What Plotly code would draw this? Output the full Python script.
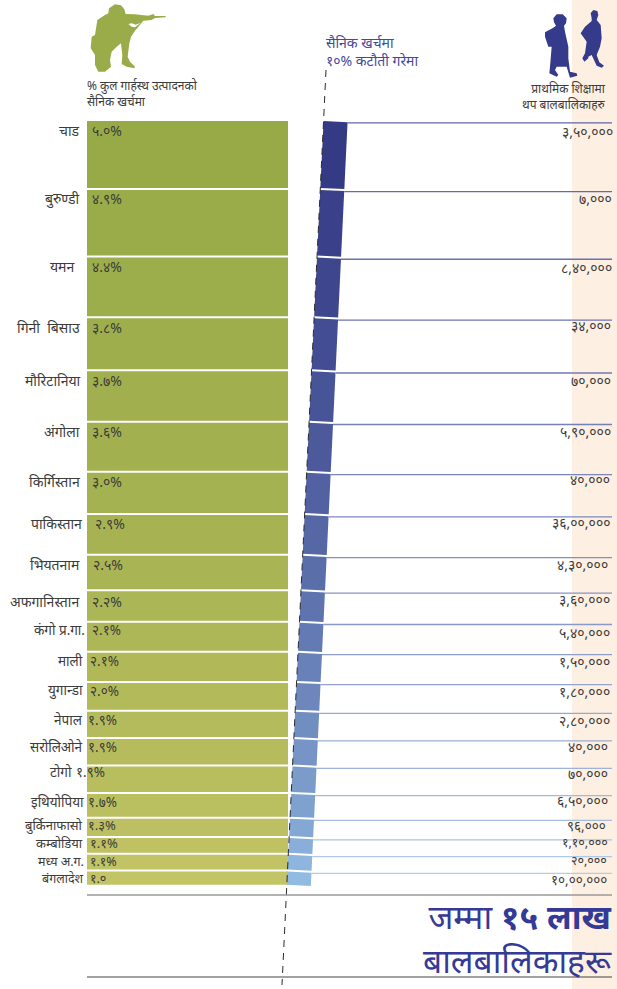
import plotly.graph_objects as go

# ---- data ----
countries = ["चाड", "बुरुण्डी", "यमन", "गिनी\u00a0\u00a0बिसाउ", "मौरिटानिया", "अंगोला", "किर्गिस्तान",
             "पाकिस्तान", "भियतनाम", "अफगानिस्तान", "कंगो प्र.गा.", "माली", "युगान्डा", "नेपाल",
             "सरोलिओने", "टोगो", "इथियोपिया", "बुर्किनाफासो", "कम्बोडिया", "मध्य अ.ग.", "बंगलादेश"]
military_pct = [5.0, 4.9, 4.4, 3.8, 3.7, 3.6, 3.0, 2.9, 2.5, 2.2, 2.1, 2.1, 2.0, 1.9, 1.9, 1.9, 1.7, 1.3, 1.1, 1.1, 1.0]
pct_labels = ["५.०%", "४.९%", "४.४%", "३.८%", "३.७%", "३.६%", "३.०%", "२.९%", "२.५%", "२.२%", "२.१%",
              "२.१%", "२.०%", "१.९%", "१.९%", "१.९%", "१.७%", "१.३%", "१.१%", "१.१%", "१.०"]
extra_children = ["३,५०,०००", "७,०००", "८,४०,०००", "३४,०००", "७०,०००", "५,९०,०००", "४०,०००",
                  "३६,००,०००", "४,३०,०००", "३,६०,०००", "५,४०,०००", "१,५०,०००", "१,८०,०००", "२,८०,०००",
                  "४०,०००", "७०,०००", "६,५०,०००", "९६,०००", "१,१०,०००", "२०,०००", "१०,००,०००"]

# ---- layout constants (pixels) ----
W, H = 617, 989
PX = 13.38          # pixels per percentage point
TOP = 121
GAP = 2 / PX
FONT = "Noto Sans, Noto Sans Devanagari, Lohit Devanagari, sans-serif"
TXT = "#3c3c3c"
NAVY = "#353a8a"
GREEN_ICON = "#9aab4a"

def lerp(c1, c2, t):
    return "#" + "".join(f"{round(a + (b - a) * t):02x}" for a, b in zip(c1, c2))

def px_y(y):  # pixel to paper
    return 1 - y / H

def poly(pts, ox, oy, color):
    d = "M " + " L ".join(f"{ox + x / 3:.2f} {px_y(oy + y / 3):.5f}" for x, y in pts) + " Z"
    return dict(type="path", path=d, xref="x", yref="paper", fillcolor=color, line_width=0, layer="above")

# running position of each bar along the percentage axis
tops = []
c = 0.0
for v in military_pct:
    tops.append(c)
    c += v + GAP
n = len(military_pct)

def dash_x(y_pct):
    """x position of the sloped 10 % line at a y value on the percent axis."""
    y = TOP + y_pct * PX
    return 326 - 44 * (y - 70) / 915

fig = go.Figure()

# green bars: height encodes the share of GDP
green_a, green_b = (0x98, 0xaa, 0x48), (0xc3, 0xc4, 0x66)
fig.add_trace(go.Bar(
    orientation="h",
    y=[t + v / 2 for t, v in zip(tops, military_pct)],
    x=[201] * n, base=[87] * n, width=military_pct,
    marker=dict(color=[lerp(green_a, green_b, i / (n - 1)) for i in range(n)], line_width=0),
    hoverinfo="skip", showlegend=False,
))

# sheared blue bars and their leader lines
blue_a, blue_b = (0x35, 0x3a, 0x85), (0x92, 0xbb, 0xe2)
line_a, line_b = (0x60, 0x66, 0xa8), (0xb4, 0xcc, 0xe8)
BW = 24
for i, (t, v) in enumerate(zip(tops, military_pct)):
    f = i / (n - 1)
    tilt = 1.2 / PX
    xl0, xl1 = dash_x(t), dash_x(t + v)
    fig.add_trace(go.Scatter(
        x=[xl0, xl0 + BW, xl1 + BW, xl1, xl0],
        y=[t, t + tilt, t + v + tilt, t + v, t],
        mode="lines", fill="toself", fillcolor=lerp(blue_a, blue_b, f),
        line=dict(width=0), hoverinfo="skip", showlegend=False,
    ))
    yl = t + 1.8 / PX
    fig.add_trace(go.Scatter(
        x=[xl0 + BW, 612], y=[yl, yl], mode="lines",
        line=dict(width=1.3, color=lerp(line_a, line_b, f)),
        hoverinfo="skip", showlegend=False,
    ))

# sloped dashed line
fig.add_trace(go.Scatter(
    x=[326, 282], y=[(70 - TOP) / PX, (985 - TOP) / PX], mode="lines",
    line=dict(color="#2b2b2b", width=1, dash="7px,6px"),
    hoverinfo="skip", showlegend=False,
))

shapes = [
    dict(type="rect", xref="x", yref="paper", x0=572, x1=617, y0=0, y1=1,
         fillcolor="#fdefe1", line_width=0, layer="below"),
    dict(type="line", xref="x", yref="paper", x0=87, x1=612, y0=px_y(895), y1=px_y(895),
         line=dict(color="#999999", width=1.5)),
    dict(type="line", xref="x", yref="paper", x0=87, x1=612, y0=px_y(977), y1=px_y(977),
         line=dict(color="#444444", width=1)),
]

soldier = [(90,13),(108,16),(118,28),(122,42),(150,43),(190,47),(205,42),(210,48),(242,48),(242,52),(210,54),
           (200,60),(175,62),(150,92),(138,110),(133,130),(128,170),(135,185),(150,200),(148,205),(125,200),
           (110,192),(112,165),(108,130),(95,140),(80,155),(75,180),(78,200),(60,215),(40,215),(30,195),
           (30,165),(17,145),(20,110),(30,105),(37,60),(60,45),(70,40),(72,25)]
soldier_gap = [(130,72),(140,80),(150,82),(167,68),(152,74),(140,70)]
girl = [(40,40),(50,28),(68,28),(80,40),(78,55),(72,62),(75,80),(85,125),(85,160),(90,200),(110,205),(112,212),
        (90,218),(80,185),(50,185),(45,195),(55,210),(50,215),(28,205),(30,185),(35,125),(25,125),(15,95),
        (15,82),(40,68),(48,62),(42,52)]
boy = [(152,25),(160,15),(172,18),(175,30),(170,45),(182,60),(185,100),(180,125),(170,150),(178,172),(192,182),
       (185,188),(170,182),(155,150),(145,155),(145,160),(133,170),(127,160),(135,145),(140,110),(122,85),
       (135,65),(155,48),(155,40)]
shapes += [poly(soldier, 85, 0, GREEN_ICON), poly(soldier_gap, 85, 0, "#ffffff"),
           poly(girl, 540, 5, NAVY), poly(boy, 540, 5, NAVY)]

# per-row label placement, in pixels
name_right = [80, 80, 74, 80, 81, 80, 80, 82, 80, 79, 85, 83, 83, 83, 83, 72, 84, 83, 83, 84, 84]
name_dy = [9, 9, 9, 9, 9, 9, 9, 9, 9, 10, 7, 8, 8, 8, 8, 6, 8, 6, 5, 6.5, 7.5]
pct_left = [92, 92, 92, 92, 92, 92, 92, 95, 93, 92, 92, 90, 90, 88, 88, 76, 88, 88, 90, 90, 90]
value_right = [613, 612, 612, 611, 611, 611, 610, 610, 608, 610, 610, 610, 610, 610, 608, 608, 608, 606, 608, 607, 607]
value_dy = [8, 7, 8, 5, 7, 7, 5, 6, 7, 6, 8, 7, 7, 7, 5, 5, 5, 5, 2.5, 3.5, 7]
size_names = [14] * 10 + [13.5] * 7 + [13, 13, 12.5, 12.5]
size_values = [14] * 17 + [13.5, 12.5, 12.5, 13.5]

ann = []
def text(x, y, s, anchor="left", size=12, color=TXT):
    ann.append(dict(x=x, y=px_y(y), xref="x", yref="paper", text=s, showarrow=False, xanchor=anchor,
                    yanchor="middle", font=dict(family=FONT, size=size, color=color), align=anchor,
                    borderpad=0, borderwidth=0))

for i in range(n):
    top_px = TOP + tops[i] * PX
    text(name_right[i], top_px + name_dy[i], countries[i], "right", size_names[i])
    text(pct_left[i], top_px + name_dy[i], pct_labels[i], "left", size_names[i])
    text(value_right[i], top_px + 2 + value_dy[i], extra_children[i], "right", size_values[i])

text(87, 93, "% कुल गार्हस्थ उत्पादनको<br>सैनिक खर्चमा", size=12)
text(606, 96, "प्राथमिक शिक्षामा<br>थप बालबालिकाहरु", "right", 12)
text(326, 42, "सैनिक खर्चमा", size=14, color="#3f4a9c")
text(326, 60, "१०% कटौती गरेमा", size=14, color="#3f4a9c")
text(612, 938, "जम्मा <b>१५ लाख</b><br>बालबालिकाहरू", "right", 33.5, "#353a96")

fig.update_layout(
    width=W, height=H, margin=dict(l=0, r=0, t=0, b=0),
    paper_bgcolor="white", plot_bgcolor="rgba(0,0,0,0)",
    barmode="overlay", shapes=shapes, annotations=ann,
    xaxis=dict(range=[0, W], visible=False, fixedrange=True),
    yaxis=dict(range=[(H - TOP) / PX, -TOP / PX], visible=False, fixedrange=True),
)
fig.write_html("out.html", config={"displayModeBar": False}, default_width=W, default_height=H,
               post_script="document.body.style.margin='0';document.documentElement.style.overflow='hidden';")
